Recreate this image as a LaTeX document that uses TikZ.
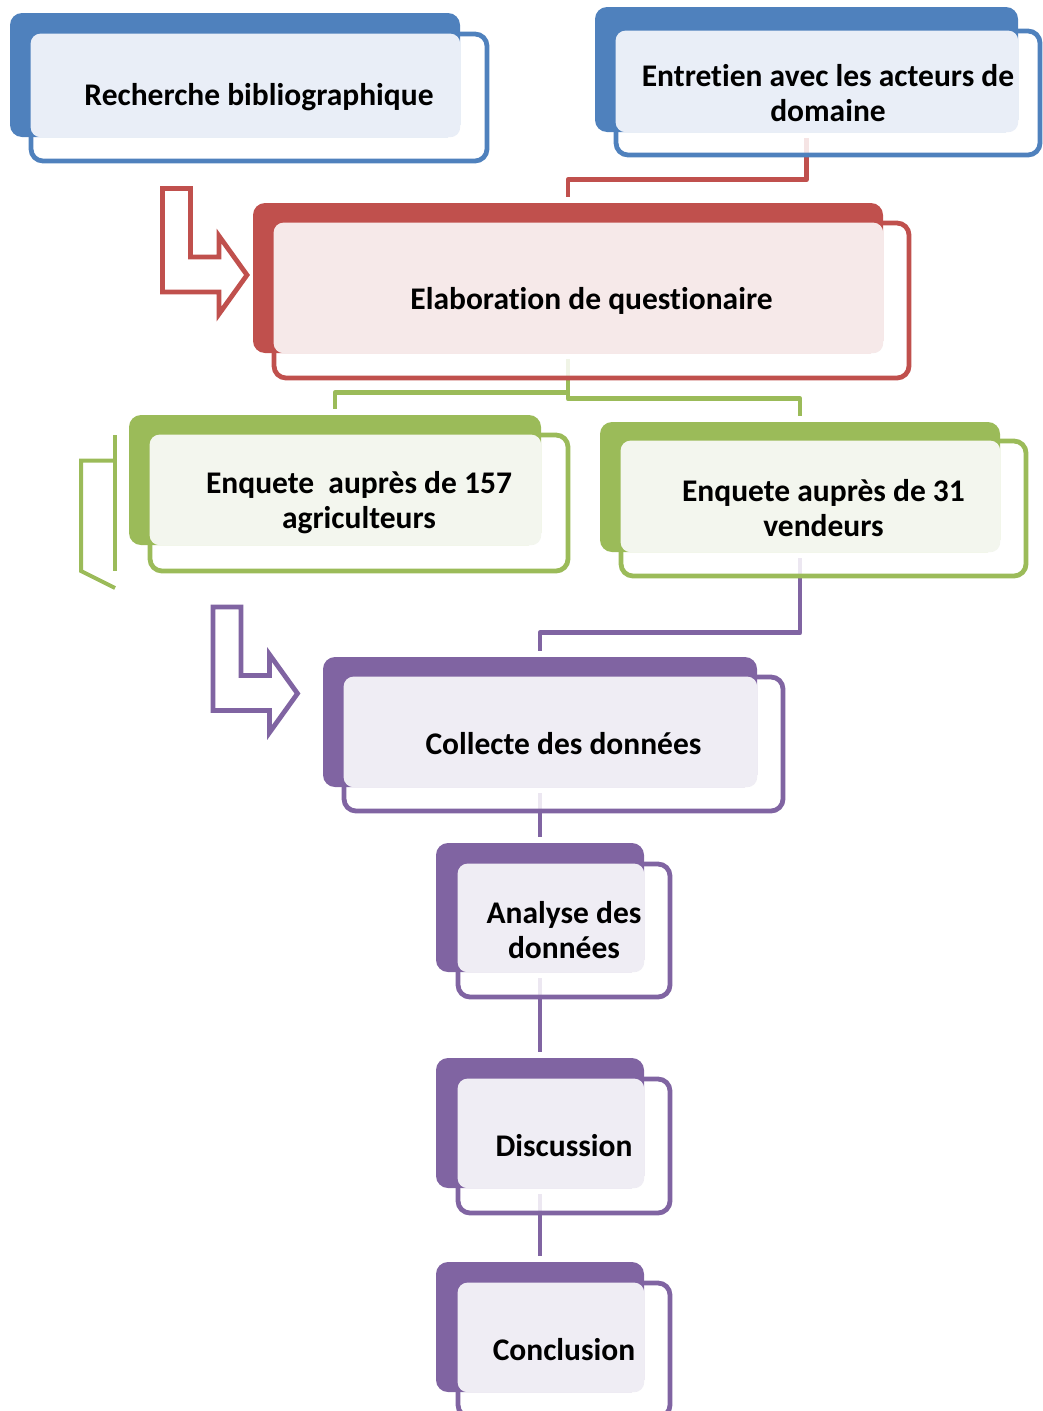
\documentclass[tikz,border=0pt]{standalone}
\usepackage{fontspec}
\setmainfont{Carlito}[Ligatures=NoCommon]
\usepackage{tikz}
\usetikzlibrary{calc,positioning,backgrounds}
\definecolor{blueD}{HTML}{4F81BD}
\definecolor{blueL}{HTML}{E9EEF7}
\definecolor{redD}{HTML}{C0504D}
\definecolor{redL}{HTML}{F6E9E9}
\definecolor{greenD}{HTML}{9BBB59}
\definecolor{greenL}{HTML}{F3F6EE}
\definecolor{purpD}{HTML}{8064A2}
\definecolor{purpL}{HTML}{EFEDF4}
\tikzset{
  backbox/.style={rectangle, rounded corners=12pt, inner sep=0pt, draw=none},
  frontbox/.style={rectangle, rounded corners=12pt, inner sep=0pt, line width=4.8pt, fill=white, fill opacity=0.85},
  lbl/.style={font=\bfseries\fontsize{31.5}{35}\selectfont, align=center, inner sep=0pt},
  conn/.style={line width=4.8pt, line join=round},
  bentarrow/.style={line width=4.8pt, line join=miter},
}

\begin{document}
\begin{tikzpicture}[x=1pt, y=-1pt]
  \useasboundingbox (0,0) rectangle (1043,1411);

  %% ==================
  %% Top row (blue)
  %% ==================
  \node[frontbox, draw=blueD, minimum width=456pt, minimum height=127pt] (rechF) at (259,97.5) {};
  \node[backbox, fill=blueD, minimum width=450pt, minimum height=124pt] (rechB) at (235,75) {};
  \fill[blueL, rounded corners=10pt] ([shift={(2,2)}]rechF.north west) rectangle (rechB.south east);
  \node[lbl] (rechT) at (rechF.center) {Recherche bibliographique};

  \node[frontbox, draw=blueD, minimum width=424pt, minimum height=124pt] (entF) at (828,93) {};
  \node[backbox, fill=blueD, minimum width=423pt, minimum height=125pt] (entB) at (806.5,69.5) {};
  \fill[blueL, rounded corners=10pt] ([shift={(2,2)}]entF.north west) rectangle (entB.south east);
  \node[lbl] (entT) at (entF.center) {Entretien avec les acteurs de\\domaine};

  %% ==================
  %% Questionnaire (red)
  %% ==================
  \node[frontbox, draw=redD, minimum width=635pt, minimum height=155pt] (elabF) at (591.5,300.5) {};
  \node[backbox, fill=redD, minimum width=630pt, minimum height=150pt] (elabB) at (568,278) {};
  \fill[redL, rounded corners=10pt] ([shift={(2,2)}]elabF.north west) rectangle (elabB.south east);
  \node[lbl] (elabT) at (elabF.center) {Elaboration de questionaire};

  % bent arrow
  \begin{scope}[shift={(162.5,188.5)}]
    \draw[bentarrow, redD] (0,0) -- (28,0) -- (28,68.5) -- (56.5,68.5) -- (56.5,47.5)
      -- (84.5,86.5) -- (56.5,125.5) -- (56.5,103.5) -- (0,103.5) -- cycle;
  \end{scope}

  %% ==================
  %% Surveys (green)
  %% ==================
  \node[frontbox, draw=greenD, minimum width=418pt, minimum height=136pt] (agriF) at (359,503) {};
  \node[backbox, fill=greenD, minimum width=412pt, minimum height=130pt] (agriB) at (335,480) {};
  \fill[greenL, rounded corners=10pt] ([shift={(2,2)}]agriF.north west) rectangle (agriB.south east);
  \node[lbl] (agriT) at (agriF.center) {Enquete\ \ auprès de 157\\agriculteurs};

  \node[frontbox, draw=greenD, minimum width=405pt, minimum height=135pt] (vendF) at (823.5,508.5) {};
  \node[backbox, fill=greenD, minimum width=400pt, minimum height=130pt] (vendB) at (800,487) {};
  \fill[greenL, rounded corners=10pt] ([shift={(2,2)}]vendF.north west) rectangle (vendB.south east);
  \node[lbl] (vendT) at (vendF.center) {Enquete auprès de 31\\vendeurs};

  % loose bracket left of the first survey
  \draw[greenD, line width=4pt] (115,435) -- (115,571);
  \draw[greenD, line width=4pt, line join=miter] (115,460.5) -- (81,460.5) -- (81,571) -- (115,588);

  %% ==================
  %% Analysis chain (purple)
  %% ==================
  \node[frontbox, draw=purpD, minimum width=439pt, minimum height=134pt] (collF) at (563.5,744) {};
  \node[backbox, fill=purpD, minimum width=434pt, minimum height=130pt] (collB) at (540,722) {};
  \fill[purpL, rounded corners=10pt] ([shift={(2,2)}]collF.north west) rectangle (collB.south east);
  \node[lbl] (collT) at (collF.center) {Collecte des données};

  \begin{scope}[shift={(213,607)}]
    \draw[bentarrow, purpD] (0,0) -- (28,0) -- (28,68.5) -- (56.5,68.5) -- (56.5,47.5)
      -- (84.5,86.5) -- (56.5,125.5) -- (56.5,103.5) -- (0,103.5) -- cycle;
  \end{scope}

  \node[frontbox, draw=purpD, minimum width=212pt, minimum height=133pt] (anaF) at (564,930.5) {};
  \node[backbox, fill=purpD, minimum width=208pt, minimum height=129pt] (anaB) at (540,907.5) {};
  \fill[purpL, rounded corners=10pt] ([shift={(2,2)}]anaF.north west) rectangle (anaB.south east);
  \node[lbl] (anaT) at (anaF.center) {Analyse des\\données};

  \node[frontbox, draw=purpD, minimum width=212pt, minimum height=134pt] (discF) at (564,1146) {};
  \node[backbox, fill=purpD, minimum width=208pt, minimum height=130pt] (discB) at (540,1123) {};
  \fill[purpL, rounded corners=10pt] ([shift={(2,2)}]discF.north west) rectangle (discB.south east);
  \node[lbl] (discT) at (discF.center) {Discussion};

  \node[frontbox, draw=purpD, minimum width=212pt, minimum height=134pt] (concF) at (564,1350) {};
  \node[backbox, fill=purpD, minimum width=208pt, minimum height=130pt] (concB) at (540,1327) {};
  \fill[purpL, rounded corners=10pt] ([shift={(2,2)}]concF.north west) rectangle (concB.south east);
  \node[lbl] (concT) at (concF.center) {Conclusion};

  %% connectors, kept under the boxes
  \begin{scope}[on background layer]
    \draw[conn, redD] ([yshift=-6pt]entB.south) |- ([yshift=23pt]elabB.north) -- ([yshift=6pt]elabB.north);
    \draw[conn, greenD] ([yshift=-6pt]elabB.south) |- ([yshift=22pt]agriB.north) -- ([yshift=6pt]agriB.north);
    \draw[conn, greenD] ([yshift=-6pt]elabB.south) |- ([yshift=23pt]vendB.north) -- ([yshift=6pt]vendB.north);
    \draw[conn, purpD] ([yshift=-6pt]vendB.south) |- ([yshift=24pt]collB.north) -- ([yshift=6pt]collB.north);
    \draw[conn, purpD] ([yshift=-6pt]collB.south) -- ([yshift=6pt]anaB.north);
    \draw[conn, purpD] ([yshift=-6pt]anaB.south) -- ([yshift=6pt]discB.north);
    \draw[conn, purpD] ([yshift=-6pt]discB.south) -- ([yshift=6pt]concB.north);
  \end{scope}
\end{tikzpicture}
\end{document}
